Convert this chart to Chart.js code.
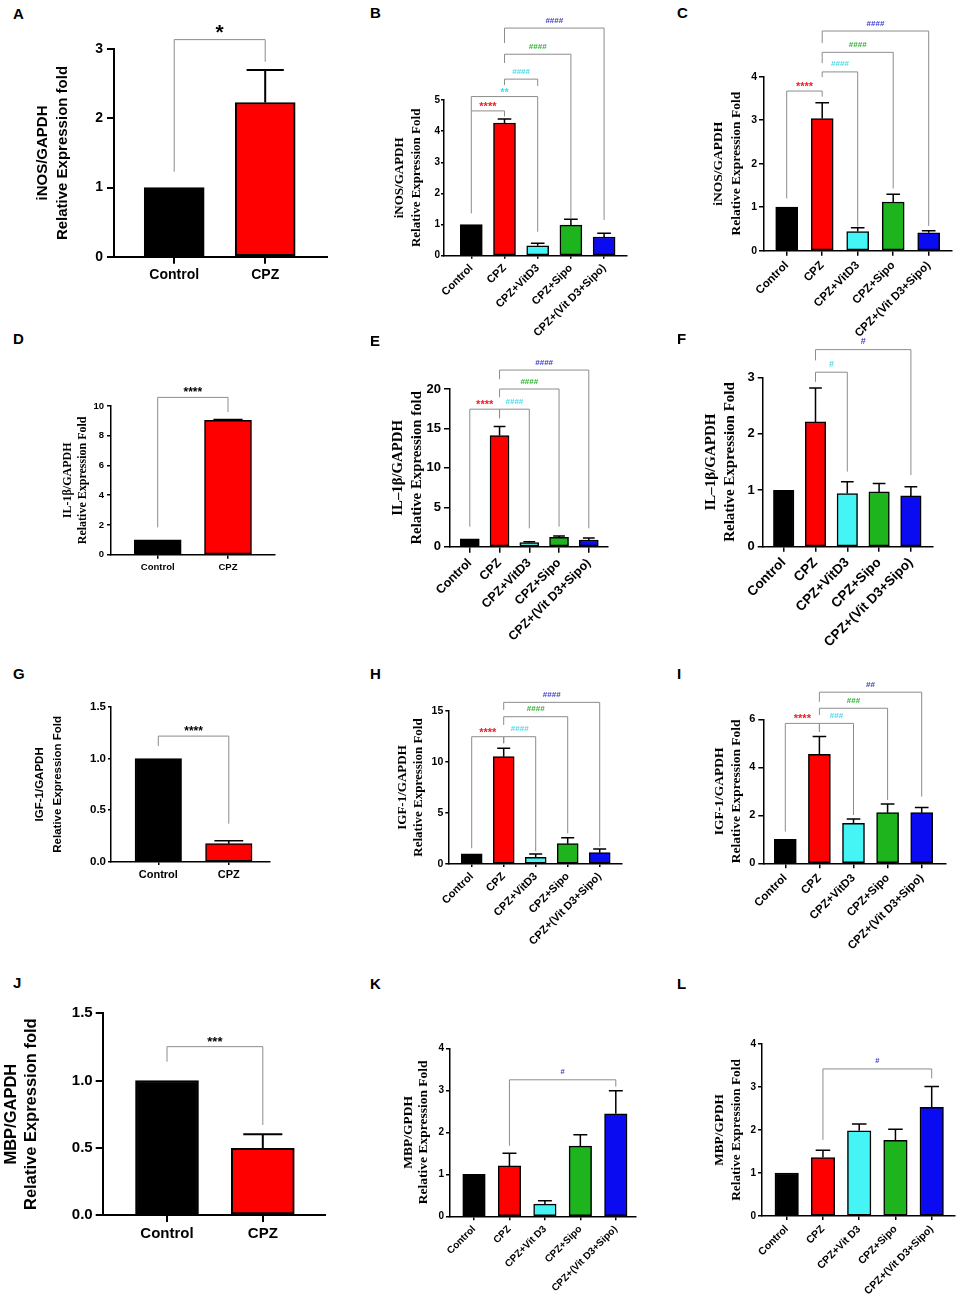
<!DOCTYPE html>
<html><head><meta charset="utf-8">
<script src="https://cdn.jsdelivr.net/npm/chart.js@4.4.0/dist/chart.umd.min.js"></script>
<style>
html,body{margin:0;padding:0;background:#fff;}
#fig{position:relative;width:961px;height:1300px;overflow:hidden;background:#fff;}
#fig canvas{position:absolute;}
.lbl{position:absolute;font:bold 15px "Liberation Sans",Arial,sans-serif;line-height:15px;color:#000;}
</style></head><body><div id="fig"></div>
<script>
// ---------- DATA ----------
const groups2 = ['Control', 'CPZ'];
const groups5 = ['Control', 'CPZ', 'CPZ+VitD3', 'CPZ+Sipo', 'CPZ+(Vit D3+Sipo)'];
const groups5s = ['Control', 'CPZ', 'CPZ+Vit D3', 'CPZ+Sipo', 'CPZ+(Vit D3+Sipo)'];

const meanA = [1.00, 2.23],                   semA = [0, 0.47];
const meanB = [1.00, 4.26, 0.32, 0.98, 0.60], semB = [0, 0.13, 0.08, 0.19, 0.12];
const meanC = [1.00, 3.04, 0.44, 1.12, 0.41], semC = [0, 0.36, 0.09, 0.18, 0.05];
const meanD = [1.00, 9.03],                   semD = [0, 0.07];
const meanE = [1.00, 14.09, 0.51, 1.19, 0.85], semE = [0, 1.14, 0.12, 0.17, 0.25];
const meanF = [1.00, 2.21, 0.94, 0.97, 0.90], semF = [0, 0.60, 0.21, 0.15, 0.16];
const meanG = [1.00, 0.177],                  semG = [0, 0.029];
const meanH = [1.00, 10.52, 0.66, 1.99, 1.11], semH = [0, 0.82, 0.32, 0.59, 0.36];
const meanI = [1.00, 4.54, 1.67, 2.11, 2.11], semI = [0, 0.74, 0.18, 0.36, 0.21];
const meanJ = [1.00, 0.496],                  semJ = [0, 0.104];
const meanK = [1.00, 1.20, 0.29, 1.67, 2.44], semK = [0, 0.30, 0.08, 0.27, 0.55];
const meanL = [1.00, 1.36, 1.98, 1.76, 2.53], semL = [0, 0.17, 0.16, 0.26, 0.48];

// significance brackets: [from, to, level, leftLegEnd, rightLegEnd, text, colour]
const sigA = [[0, 1, 3.14, 1.23, 2.82, '*', 'k']];
const sigB = [[0, 1, 4.65, 1.36, 4.47, '****', 'r'], [0, 2, 5.11, 4.65, 0.77, '**', 'c'],
              [1, 2, 5.67, 5.48, 5.45, '####', 'c'], [1, 3, 6.47, 6.19, 1.20, '####', 'g'],
              [1, 4, 7.31, 6.83, 1.15, '####', 'b']];
const sigC = [[0, 1, 3.67, 1.20, 3.54, '****', 'r'], [1, 2, 4.11, 3.99, 0.55, '####', 'c'],
              [1, 3, 4.56, 4.31, 1.43, '####', 'g'], [1, 4, 5.05, 4.77, 0.57, '####', 'b']];
const sigD = [[0, 1, 10.58, 1.84, 9.6, '****', 'k']];
const sigE = [[0, 1, 17.44, 2.54, 16.3, '****', 'r'], [1, 2, 17.44, 16.3, 2.33, '####', 'c'],
              [1, 3, 20.0, 18.96, 2.54, '####', 'g'], [1, 4, 22.4, 21.24, 2.33, '####', 'b']];
const sigF = [[1, 2, 3.09, 2.92, 1.33, '#', 'c'], [1, 4, 3.49, 3.30, 1.27, '#', 'b']];
const sigG = [[0, 1, 1.216, 1.12, 0.37, '****', 'k']];
const sigH = [[0, 1, 12.48, 1.54, 11.83, '****', 'r'], [1, 2, 12.48, 11.83, 1.25, '####', 'c'],
              [1, 3, 14.44, 13.63, 3.0, '####', 'g'], [1, 4, 15.85, 15.1, 1.7, '####', 'b']];
const sigI = [[0, 1, 5.83, 1.32, 5.48, '****', 'r'], [1, 2, 5.83, 5.48, 2.01, '###', 'c'],
              [1, 3, 6.46, 6.18, 2.64, '###', 'g'], [1, 4, 7.13, 6.73, 2.78, '##', 'b']];
const sigJ = [[0, 1, 1.252, 1.14, 0.67, '***', 'k']];
const sigK = [[1, 4, 3.25, 1.68, 3.09, '#', 'b']];
const sigL = [[1, 4, 3.42, 1.77, 3.20, '#', 'b']];

const titleA = ['iNOS/GAPDH', 'Relative Expression fold'];
const titleB = ['iNOS/GAPDH', 'Relative Expression Fold'];
const titleD = ['IL-1β/GAPDH', 'Relative Expression Fold'];
const titleE = ['IL–1β/GAPDH', 'Relative Expression fold'];
const titleF = ['IL–1β/GAPDH', 'Relative Expression Fold'];
const titleG = ['IGF-1/GAPDH', 'Relative Expression Fold'];
const titleJ = ['MBP/GAPDH', 'Relative Expression fold'];
const titleK = ['MBP/GPDH', 'Relative Expression Fold'];

const yMaxes = [3, 5, 4, 10, 20, 3, 1.5, 15, 6, 1.5, 4, 4];
const ySteps = [1, 1, 1, 2, 5, 1, 0.5, 5, 2, 0.5, 1, 1];

// ---------- STYLE ----------
const SANS = '"Liberation Sans", Arial, sans-serif';
const SERIF = '"Liberation Serif", "Times New Roman", serif';
const barColors = ['#000000', '#FF0000', '#45F5F5', '#1EB41E', '#0B0BF2'];
const sigColors = {k: '#000000', r: '#E8202A', c: '#4CD9E8', g: '#2DB52D', b: '#3A3AD0'};

const panels = [
 {id:'A', g:groups2, m:meanA, e:semA, s:sigA, t:titleA, cx:0,   cy:0,   cw:335, ch:300, ax:114,   ar:327,   at:49.3,   ab:256.7,  c0:174.2, sp:91,    bw:60,  tk:14,  xf:14,  rot:0,  tf:15,   serif:false, t1:43,    tg:20,   lw:2,   tl:7, tp:4, star:21, hash:8, lx:13,  ly:8},
 {id:'B', g:groups5, m:meanB, e:semB, s:sigB, t:titleB, cx:320, cy:0,   cw:320, ch:340, ax:444,   ar:626.7, at:100,    ab:255.7,  c0:471.3, sp:33.2,  bw:22,  tk:10,  xf:11,  rot:45, tf:13,   serif:true,  t1:400,   tg:16.7, lw:1.5, tl:3, tp:1, star:11, hash:8, lx:370, ly:7},
 {id:'C', g:groups5, m:meanC, e:semC, s:sigC, t:titleB, cx:640, cy:0,   cw:321, ch:340, ax:764,   ar:951.7, at:76.7,   ab:250.7,  c0:786.7, sp:35.5,  bw:22,  tk:10.5,xf:11.5,rot:45, tf:13.5, serif:true,  t1:719,   tg:17.7, lw:1.5, tl:5, tp:2, star:11, hash:8, lx:677, ly:7},
 {id:'D', g:groups2, m:meanD, e:semD, s:sigD, t:titleD, cx:0,   cy:320, cw:320, ch:300, ax:111,   ar:275,   at:406,    ab:554.7,  c0:157.7, sp:70.3,  bw:47,  tk:9.5, xf:9.5, rot:0,  tf:12,   serif:true,  t1:68,    tg:15.3, lw:1.5, tl:4, tp:3, star:12, hash:8, lx:13,  ly:333},
 {id:'E', g:groups5, m:meanE, e:semE, s:sigE, t:titleE, cx:320, cy:320, cw:320, ch:330, ax:450,   ar:607.3, at:389,    ab:546.7,  c0:469.8, sp:29.75, bw:19,  tk:13,  xf:12.5,rot:45, tf:14.8, serif:true,  t1:398,   tg:18.7, lw:1.5, tl:6, tp:3, star:11, hash:8, lx:370, ly:335},
 {id:'F', g:groups5, m:meanF, e:semF, s:sigF, t:titleF, cx:640, cy:320, cw:321, ch:330, ax:762.7, ar:932.7, at:377.3,  ab:546.7,  c0:783.7, sp:31.8,  bw:20.5,tk:13,  xf:13.5,rot:45, tf:15,   serif:true,  t1:710.7, tg:19.3, lw:1.5, tl:5, tp:3, star:11, hash:9, lx:677, ly:333},
 {id:'G', g:groups2, m:meanG, e:semG, s:sigG, t:titleG, cx:0,   cy:655, cw:320, ch:250, ax:111,   ar:270,   at:706.7,  ab:862,    c0:158.3, sp:70.5,  bw:46.5,tk:11.5,xf:11,  rot:0,  tf:11.5, serif:false, t1:40,    tg:18.3, lw:1.5, tl:3, tp:2, star:12, hash:8, lx:13,  ly:668},
 {id:'H', g:groups5, m:meanH, e:semH, s:sigH, t:titleG, cx:320, cy:655, cw:320, ch:300, ax:448.3, ar:621.7, at:711,    ab:864,    c0:471.7, sp:32,    bw:21,  tk:10.5,xf:11,  rot:45, tf:13,   serif:true,  t1:402.7, tg:15.6, lw:1.5, tl:3, tp:2, star:11, hash:8, lx:370, ly:668},
 {id:'I', g:groups5, m:meanI, e:semI, s:sigI, t:titleG, cx:640, cy:655, cw:321, ch:305, ax:763.3, ar:946,   at:719.3,  ab:863.3,  c0:785.3, sp:34.1,  bw:22,  tk:11,  xf:11.5,rot:45, tf:13.5, serif:true,  t1:720,   tg:16.7, lw:1.5, tl:5, tp:3, star:11, hash:8, lx:677, ly:668},
 {id:'J', g:groups2, m:meanJ, e:semJ, s:sigJ, t:titleJ, cx:0,   cy:965, cw:335, ch:300, ax:102.7, ar:325,   at:1013.3, ab:1215,   c0:167,   sp:95.8,  bw:63,  tk:15,  xf:15,  rot:0,  tf:16.5, serif:false, t1:11.7,  tg:19.3, lw:2,   tl:7, tp:3, star:13, hash:8, lx:13,  ly:977},
 {id:'K', g:groups5s,m:meanK, e:semK, s:sigK, t:titleK, cx:320, cy:965, cw:320, ch:335, ax:450,   ar:636,   at:1048.3, ab:1216.3, c0:474,   sp:35.45, bw:22.5,tk:10,  xf:10,  rot:45, tf:13.5, serif:true,  t1:408.3, tg:15,   lw:1.5, tl:4, tp:2, star:11, hash:7.5, lx:370, ly:978},
 {id:'L', g:groups5s,m:meanL, e:semL, s:sigL, t:titleK, cx:640, cy:965, cw:321, ch:335, ax:762,   ar:955,   at:1044,   ab:1216,   c0:786.7, sp:36.25, bw:23.5,tk:10,  xf:10.5,rot:45, tf:13.3, serif:true,  t1:720,   tg:16.7, lw:1.5, tl:4, tp:2, star:11, hash:7.5, lx:677, ly:978}
];

Chart.defaults.color = '#000';
Chart.defaults.font.family = SANS;

function makeDeco(p) {
  return {
    id: 'deco' + p.id,
    afterDatasetsDraw(chart) {
      const ctx = chart.ctx, ys = chart.scales.y, xs = chart.scales.x;
      const meta = chart.getDatasetMeta(0);
      ctx.save();
      // error bars (upper, SEM)
      ctx.strokeStyle = '#000';
      ctx.lineWidth = p.lw;
      p.m.forEach((v, i) => {
        if (!p.e[i]) return;
        const el = meta.data[i];
        const x = el.x, y0 = ys.getPixelForValue(v), y1 = ys.getPixelForValue(v + p.e[i]);
        const hw = p.bw * 0.31;
        ctx.beginPath();
        ctx.moveTo(x, y0); ctx.lineTo(x, y1);
        ctx.moveTo(x - hw, y1); ctx.lineTo(x + hw, y1);
        ctx.stroke();
      });
      // significance brackets
      ctx.lineWidth = 1;
      ctx.strokeStyle = '#8c8c8c';
      p.s.forEach(([a, b, lvl, le, re, txt, col]) => {
        const xa = xs.getPixelForValue(a), xb = xs.getPixelForValue(b), y = ys.getPixelForValue(lvl);
        ctx.beginPath();
        ctx.moveTo(xa, ys.getPixelForValue(le)); ctx.lineTo(xa, y);
        ctx.lineTo(xb, y); ctx.lineTo(xb, ys.getPixelForValue(re));
        ctx.stroke();
        const isStar = txt.indexOf('*') >= 0;
        ctx.fillStyle = sigColors[col];
        ctx.font = 'bold ' + (isStar ? p.star : p.hash) + 'px ' + SANS;
        ctx.textAlign = 'center';
        ctx.textBaseline = 'alphabetic';
        ctx.fillText(txt, (xa + xb) / 2, y - (isStar ? 1 : 5.5));
      });
      ctx.restore();
    }
  };
}

const fig = document.getElementById('fig');
panels.forEach((p, k) => {
  const lab = document.createElement('div');
  lab.className = 'lbl';
  lab.textContent = p.id;
  lab.style.left = p.lx + 'px';
  lab.style.top = (p.ly - 2) + 'px';
  fig.appendChild(lab);

  const cv = document.createElement('canvas');
  cv.width = p.cw; cv.height = p.ch;
  cv.style.left = p.cx + 'px'; cv.style.top = p.cy + 'px';
  cv.style.width = p.cw + 'px'; cv.style.height = p.ch + 'px';
  fig.appendChild(cv);

  const xMin = (p.ax - p.c0) / p.sp, xMax = (p.ar - p.c0) / p.sp;
  const yMax = yMaxes[k], yStep = ySteps[k];
  const tfam = p.serif ? SERIF : SANS;
  const dec = yStep < 1;

  new Chart(cv, {
    type: 'bar',
    data: {
      datasets: [{
        data: p.m.map((v, i) => ({x: i, y: v})),
        backgroundColor: p.m.map((v, i) => barColors[i]),
        borderColor: '#000',
        borderWidth: p.lw,
        borderSkipped: false,
        barThickness: p.bw
      }]
    },
    options: {
      responsive: false,
      animation: false,
      devicePixelRatio: 1,
      layout: {padding: {left: 0, top: p.at - p.cy, right: p.cx + p.cw - p.ar, bottom: 0}},
      plugins: {legend: {display: false}, tooltip: {enabled: false}},
      events: [],
      scales: {
        x: {
          type: 'linear',
          min: xMin, max: xMax,
          offset: false,
          afterBuildTicks: s => { s.ticks = p.g.map((_, i) => ({value: i})); },
          afterFit: s => { s.height = p.cy + p.ch - p.ab; },
          grid: {display: true, drawOnChartArea: false, drawTicks: true, tickLength: p.tl, color: '#000', lineWidth: p.lw, offset: false},
          border: {display: true, color: '#000', width: p.lw},
          ticks: {
            autoSkip: false, minRotation: p.rot, maxRotation: p.rot, padding: 3,
            font: {family: SANS, size: p.xf, weight: 'bold'}, color: '#000',
            callback: v => p.g[v]
          }
        },
        y: {
          type: 'linear',
          min: 0, max: yMax,
          afterFit: s => { s.width = p.ax - p.cx; },
          grid: {display: true, drawOnChartArea: false, drawTicks: true, tickLength: p.tl, color: '#000', lineWidth: p.lw, offset: false},
          border: {display: true, color: '#000', width: p.lw},
          ticks: {
            stepSize: yStep, padding: p.tp,
            font: {family: SANS, size: p.tk, weight: 'bold'}, color: '#000',
            callback: v => dec ? v.toFixed(1) : String(v)
          },
          title: {
            display: true, text: p.t, color: '#000',
            font: {family: tfam, size: p.tf, weight: 'bold', lineHeight: p.tg / p.tf},
            padding: {top: p.t1 - p.cx - p.tg / 2, bottom: 0}
          }
        }
      }
    },
    plugins: [makeDeco(p)]
  });
});
</script>
</body></html>
